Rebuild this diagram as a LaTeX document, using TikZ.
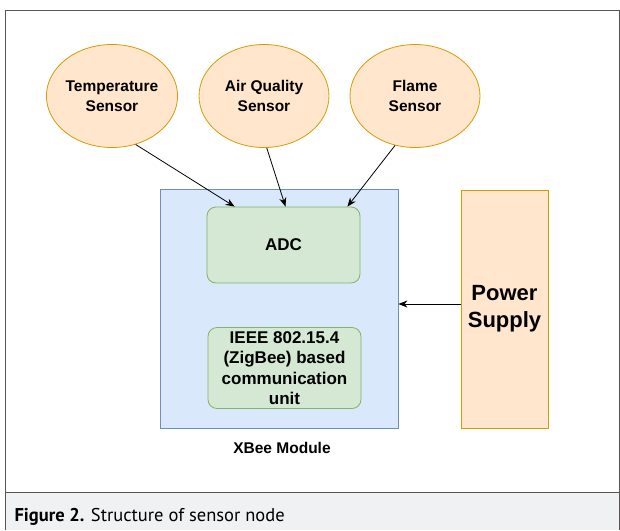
\documentclass[tikz,border=0pt]{standalone}
\usepackage{fontspec}
\setmainfont{Liberation Sans}
\newfontfamily\capfont{PT Sans}
\usetikzlibrary{shapes.geometric,arrows.meta,calc,positioning}

\definecolor{sensorfill}{HTML}{FFE6CC}
\definecolor{sensorline}{HTML}{D79B00}
\definecolor{modfill}{HTML}{DAE8FC}
\definecolor{modline}{HTML}{6C8EBF}
\definecolor{unitfill}{HTML}{D5E8D4}
\definecolor{unitline}{HTML}{82B366}
\definecolor{capband}{HTML}{F0F1F3}
\definecolor{frameline}{HTML}{555555}

\tikzset{
    sensor/.style={ellipse, draw=sensorline, fill=sensorfill, line width=0.8pt,
        minimum width=130, minimum height=103, inner sep=0pt, align=center,
        font=\bfseries\fontsize{15.5}{20}\selectfont},
    unit/.style={draw=unitline, fill=unitfill, rounded corners=9pt, line width=0.8pt,
        minimum width=153, align=center, inner sep=0pt},
    feed/.style={-{Stealth[length=9pt,width=7pt]}, line width=0.8pt}
}

\begin{document}
\begin{tikzpicture}[x=1pt,y=-1pt]
        \useasboundingbox (0,0) rectangle (620,530);

        % Frame and caption band
        \fill[capband] (5,492) rectangle (620,530);
        \draw[frameline, line width=1pt] (5,530) -- (5,10) -- (619,10) -- (619,530);
        \draw[frameline, line width=1pt] (5,492) -- (619,492);
        \node[anchor=west, font=\capfont\fontsize{18.5}{20}\selectfont] (caption) at (11,517)
            {\textbf{Figure 2.} Structure of sensor node};

        % Sensors
        \node[sensor] (temp) at (112,96) {Temperature\\Sensor};
        \node[sensor] (air) at (264,96) {Air Quality\\Sensor};
        \node[sensor] (flame) at (415,96) {Flame\\Sensor};

        % XBee module
        \node[draw=modline, fill=modfill, line width=0.8pt, minimum width=238,
            minimum height=239, inner sep=0pt] (xbee) at (279,308.5) {};
        \node[font=\bfseries\fontsize{15.5}{18}\selectfont] (xbeelabel) at (282,448) {XBee Module};
        \node[unit, minimum height=76, font=\bfseries\fontsize{17}{20}\selectfont] (adc) at (283.5,245) {ADC};
        \node[unit, minimum height=81, font=\bfseries\fontsize{17}{20.5}\selectfont] (comm) at (284.5,368)
            {IEEE 802.15.4\\(ZigBee) based\\communication\\unit};

        % Power supply
        \node[draw=sensorline, fill=sensorfill, line width=0.8pt, minimum width=87,
            minimum height=238, inner sep=0pt, align=center,
            font=\bfseries\fontsize{22}{27}\selectfont] (power) at (504.5,309) {Power\\Supply};

        % Connectors
        \draw[feed] (temp.-64) -- ($(adc.north west)+(28,0)$);
        \draw[feed] (air.-87) -- ($(adc.north)+(2,0)$);
        \draw[feed] (flame.-112) -- ($(adc.north east)+(-13,0)$);
        \draw[feed] (power.west |- 0,304) -- (xbee.east |- 0,304);
    \end{tikzpicture}
\end{document}
